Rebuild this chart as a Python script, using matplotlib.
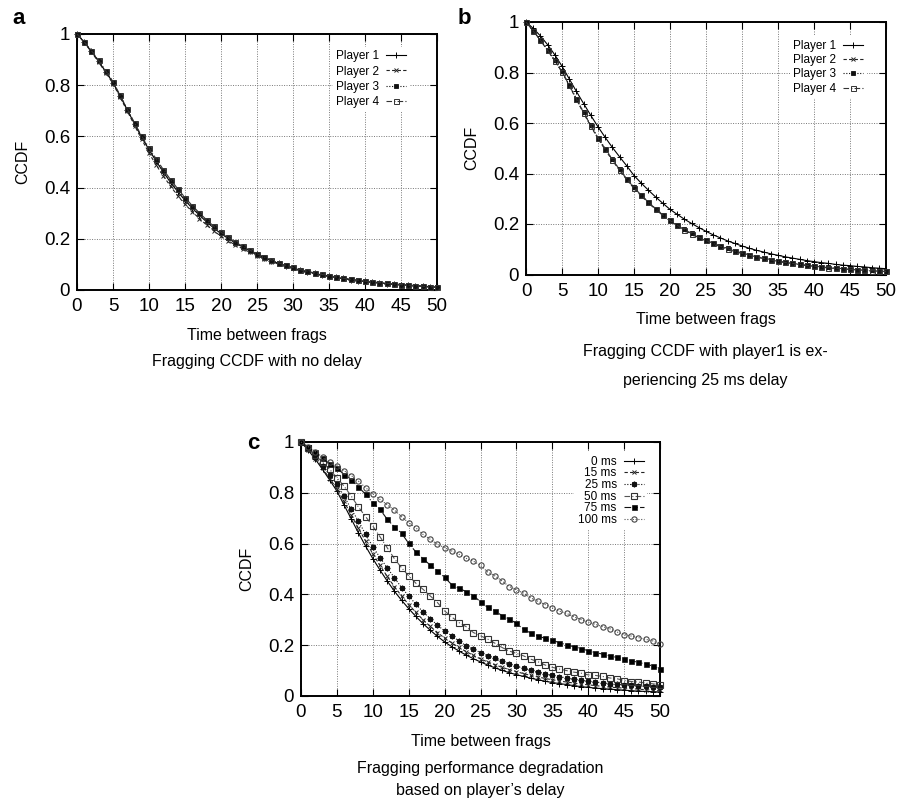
import numpy as np
import matplotlib
matplotlib.use("Agg")
import matplotlib.pyplot as plt

plt.rcParams['font.family'] = ['Liberation Sans', 'DejaVu Sans']

# ---- data: CCDF of time between frags, sampled at t = 0..50 ----
t = list(range(51))

a_player1 = [1.0, 0.968, 0.932, 0.893, 0.852, 0.810, 0.757, 0.703, 0.648, 0.596, 0.548, 0.503, 0.460, 0.420, 0.384, 0.350, 0.320, 0.292, 0.266, 0.242, 0.220, 0.201, 0.184, 0.168, 0.153, 0.139, 0.126, 0.114, 0.104, 0.095, 0.086, 0.078, 0.071, 0.065, 0.059, 0.054, 0.049, 0.045, 0.041, 0.037, 0.034, 0.031, 0.028, 0.025, 0.023, 0.021, 0.019, 0.017, 0.015, 0.013, 0.011]
a_player2 = [1.0, 0.967, 0.930, 0.890, 0.849, 0.806, 0.752, 0.698, 0.642, 0.588, 0.535, 0.488, 0.445, 0.405, 0.368, 0.335, 0.306, 0.279, 0.254, 0.231, 0.210, 0.192, 0.176, 0.161, 0.147, 0.134, 0.122, 0.111, 0.101, 0.092, 0.084, 0.076, 0.069, 0.063, 0.058, 0.053, 0.048, 0.044, 0.040, 0.036, 0.033, 0.030, 0.027, 0.025, 0.022, 0.020, 0.018, 0.016, 0.014, 0.012, 0.010]
a_player3 = [1.0, 0.970, 0.934, 0.895, 0.854, 0.812, 0.758, 0.704, 0.650, 0.598, 0.550, 0.506, 0.464, 0.425, 0.389, 0.355, 0.324, 0.296, 0.270, 0.245, 0.223, 0.203, 0.185, 0.169, 0.154, 0.140, 0.127, 0.115, 0.105, 0.096, 0.087, 0.079, 0.072, 0.066, 0.060, 0.055, 0.050, 0.046, 0.042, 0.038, 0.035, 0.031, 0.028, 0.026, 0.023, 0.021, 0.019, 0.017, 0.015, 0.013, 0.011]
a_player4 = [1.0, 0.969, 0.935, 0.897, 0.856, 0.814, 0.760, 0.706, 0.652, 0.601, 0.555, 0.512, 0.470, 0.431, 0.395, 0.361, 0.330, 0.301, 0.274, 0.249, 0.226, 0.206, 0.187, 0.171, 0.156, 0.142, 0.129, 0.117, 0.106, 0.097, 0.088, 0.080, 0.073, 0.067, 0.061, 0.056, 0.051, 0.046, 0.042, 0.039, 0.035, 0.032, 0.029, 0.026, 0.024, 0.021, 0.019, 0.017, 0.015, 0.013, 0.011]

b_player1 = [1.0, 0.975, 0.945, 0.910, 0.870, 0.825, 0.775, 0.725, 0.677, 0.630, 0.585, 0.543, 0.503, 0.466, 0.430, 0.392, 0.362, 0.334, 0.307, 0.282, 0.258, 0.238, 0.219, 0.202, 0.186, 0.171, 0.157, 0.145, 0.133, 0.123, 0.113, 0.104, 0.096, 0.089, 0.082, 0.076, 0.070, 0.065, 0.060, 0.055, 0.051, 0.047, 0.044, 0.040, 0.037, 0.035, 0.032, 0.030, 0.027, 0.025, 0.023]
b_player2 = [1.0, 0.965, 0.927, 0.887, 0.846, 0.802, 0.748, 0.693, 0.639, 0.587, 0.538, 0.494, 0.452, 0.412, 0.375, 0.341, 0.311, 0.283, 0.258, 0.234, 0.212, 0.193, 0.176, 0.160, 0.146, 0.133, 0.121, 0.110, 0.100, 0.091, 0.083, 0.076, 0.069, 0.063, 0.057, 0.052, 0.047, 0.043, 0.039, 0.035, 0.032, 0.029, 0.026, 0.024, 0.022, 0.020, 0.018, 0.016, 0.014, 0.013, 0.011]
b_player3 = [1.0, 0.966, 0.929, 0.889, 0.848, 0.804, 0.751, 0.696, 0.642, 0.591, 0.542, 0.498, 0.456, 0.416, 0.379, 0.345, 0.315, 0.287, 0.261, 0.237, 0.215, 0.196, 0.179, 0.163, 0.149, 0.136, 0.124, 0.113, 0.103, 0.094, 0.086, 0.078, 0.071, 0.065, 0.059, 0.054, 0.049, 0.045, 0.041, 0.037, 0.034, 0.031, 0.028, 0.026, 0.023, 0.021, 0.019, 0.017, 0.016, 0.014, 0.012]
b_player4 = [1.0, 0.964, 0.928, 0.888, 0.847, 0.803, 0.750, 0.695, 0.641, 0.590, 0.541, 0.497, 0.455, 0.415, 0.378, 0.344, 0.314, 0.286, 0.260, 0.236, 0.214, 0.195, 0.178, 0.162, 0.148, 0.135, 0.123, 0.112, 0.102, 0.093, 0.085, 0.077, 0.070, 0.064, 0.058, 0.053, 0.048, 0.044, 0.040, 0.036, 0.033, 0.030, 0.027, 0.025, 0.023, 0.021, 0.019, 0.017, 0.015, 0.014, 0.012]

c_0ms = [1.0, 0.968, 0.932, 0.892, 0.850, 0.807, 0.752, 0.697, 0.642, 0.590, 0.541, 0.496, 0.453, 0.413, 0.377, 0.344, 0.313, 0.285, 0.259, 0.235, 0.213, 0.194, 0.177, 0.161, 0.147, 0.134, 0.122, 0.111, 0.101, 0.092, 0.084, 0.077, 0.070, 0.064, 0.058, 0.053, 0.049, 0.045, 0.041, 0.037, 0.034, 0.031, 0.029, 0.027, 0.025, 0.023, 0.021, 0.019, 0.018, 0.017, 0.016]
c_15ms = [1.0, 0.970, 0.935, 0.896, 0.856, 0.816, 0.766, 0.712, 0.660, 0.610, 0.560, 0.514, 0.471, 0.431, 0.394, 0.360, 0.329, 0.300, 0.274, 0.250, 0.228, 0.209, 0.191, 0.175, 0.160, 0.146, 0.134, 0.123, 0.113, 0.104, 0.096, 0.088, 0.081, 0.075, 0.069, 0.064, 0.059, 0.055, 0.051, 0.047, 0.044, 0.041, 0.038, 0.035, 0.033, 0.031, 0.029, 0.027, 0.025, 0.023, 0.022]
c_25ms = [1.0, 0.972, 0.940, 0.906, 0.872, 0.833, 0.787, 0.735, 0.689, 0.636, 0.588, 0.545, 0.505, 0.466, 0.427, 0.394, 0.361, 0.331, 0.305, 0.279, 0.256, 0.237, 0.217, 0.197, 0.184, 0.171, 0.158, 0.148, 0.136, 0.126, 0.117, 0.109, 0.101, 0.094, 0.087, 0.081, 0.076, 0.071, 0.066, 0.062, 0.058, 0.055, 0.052, 0.049, 0.046, 0.044, 0.042, 0.040, 0.038, 0.036, 0.035]
c_50ms = [1.0, 0.975, 0.948, 0.920, 0.892, 0.859, 0.826, 0.787, 0.744, 0.706, 0.669, 0.627, 0.584, 0.541, 0.505, 0.473, 0.444, 0.420, 0.394, 0.368, 0.335, 0.311, 0.289, 0.273, 0.250, 0.237, 0.224, 0.208, 0.191, 0.177, 0.168, 0.158, 0.145, 0.135, 0.122, 0.113, 0.106, 0.100, 0.094, 0.090, 0.083, 0.081, 0.077, 0.071, 0.068, 0.061, 0.057, 0.055, 0.051, 0.048, 0.044]
c_75ms = [1.0, 0.980, 0.960, 0.937, 0.913, 0.897, 0.872, 0.852, 0.823, 0.794, 0.761, 0.735, 0.696, 0.666, 0.641, 0.601, 0.567, 0.541, 0.515, 0.493, 0.467, 0.438, 0.424, 0.411, 0.395, 0.371, 0.349, 0.336, 0.316, 0.303, 0.286, 0.262, 0.248, 0.236, 0.227, 0.219, 0.210, 0.201, 0.194, 0.187, 0.178, 0.171, 0.165, 0.158, 0.152, 0.145, 0.139, 0.132, 0.126, 0.118, 0.106]
c_100ms = [1.0, 0.982, 0.962, 0.940, 0.920, 0.905, 0.887, 0.868, 0.846, 0.820, 0.796, 0.774, 0.753, 0.732, 0.706, 0.682, 0.662, 0.636, 0.617, 0.597, 0.584, 0.571, 0.558, 0.542, 0.531, 0.514, 0.488, 0.473, 0.453, 0.431, 0.418, 0.405, 0.386, 0.373, 0.360, 0.347, 0.334, 0.325, 0.312, 0.301, 0.291, 0.282, 0.273, 0.265, 0.252, 0.242, 0.236, 0.230, 0.223, 0.217, 0.204]

player_labels = ["Player 1", "Player 2", "Player 3", "Player 4"]
delay_labels = ["0 ms", "15 ms", "25 ms", "50 ms", "75 ms", "100 ms"]
x_ticks = list(range(0, 51, 5))
y_ticks = [0, 0.2, 0.4, 0.6, 0.8, 1.0]
y_ticklabels = ["0", "0.2", "0.4", "0.6", "0.8", "1"]

# gnuplot-like line/point styles
player_styles = [
    dict(color="black", ls="-", marker="+", ms=4.5, mew=0.7),
    dict(color="#222222", ls=(0, (3, 2)), marker="x", ms=3.5, mew=0.7),
    dict(color="#111111", ls=(0, (1, 1.5)), marker="s", ms=2.6, mew=0.6, mfc="#111111"),
    dict(color="#333333", ls=(0, (5, 2, 1, 2)), marker="s", ms=3.6, mew=0.7, mfc="none"),
]
delay_styles = [
    dict(color="black", ls="-", marker="+", ms=4.5, mew=0.7),
    dict(color="#222222", ls=(0, (3, 2)), marker="x", ms=3.5, mew=0.7),
    dict(color="#111111", ls=(0, (1, 1.5)), marker=(8, 2, 0), ms=4.0, mew=1.0),
    dict(color="#555555", ls=(0, (5, 2, 1, 2)), marker="s", ms=3.8, mew=0.8, mfc="none", mec="#333333"),
    dict(color="#111111", ls=(0, (6, 2, 1, 2, 1, 2)), marker="s", ms=3.6, mew=0.5, mfc="black"),
    dict(color="#555555", ls=(0, (1, 1.5)), marker="o", ms=3.8, mew=0.8, mfc="none", mec="#444444"),
]

W, H = 898, 808
fig = plt.figure(figsize=(W / 100, H / 100), dpi=100)


def px_axes(left, right, top, bottom):
    return fig.add_axes([left / W, 1 - bottom / H, (right - left) / W, (bottom - top) / H])


def style_axes(ax):
    ax.set_xlim(0, 50)
    ax.set_ylim(0, 1)
    ax.set_xticks(x_ticks)
    ax.set_yticks(y_ticks)
    ax.set_yticklabels(y_ticklabels)
    ax.grid(True, color="#777777", ls=(0, (1, 1.5)), lw=0.7)
    ax.tick_params(direction="in", length=5, width=0.8, top=True, right=True,
                   labelsize=13.5, pad=5, colors="black")
    ax.tick_params(axis="x", pad=6)
    for s in ax.spines.values():
        s.set_linewidth(1.4)
        s.set_color("black")
    ax.set_ylabel("CCDF", fontsize=11.5, labelpad=10)


def draw(ax, series, labels, styles, legend_anchor, spacing):
    for y, lab, st in zip(series, labels, styles):
        ax.plot(t, y, label=lab, lw=0.8, clip_on=False, zorder=3, **st)
    leg = ax.legend(loc="upper right", bbox_to_anchor=legend_anchor, frameon=True,
                    markerfirst=False, fontsize=8.5, handlelength=1.7, handletextpad=0.6,
                    labelspacing=spacing, borderpad=0.3, borderaxespad=0,
                    fancybox=False, framealpha=1.0)
    leg.get_frame().set_edgecolor("none")
    leg.get_frame().set_facecolor("white")


# panel a
ax_a = px_axes(77, 437, 34, 290)
style_axes(ax_a)
draw(ax_a, [a_player1, a_player2, a_player3, a_player4], player_labels, player_styles,
     (0.925, 0.95), 0.27)
ax_a.set_xlabel("Time between frags", fontsize=11.5, labelpad=9)
fig.text(257 / W, 1 - 361 / H, "Fragging CCDF with no delay", ha="center", va="center", fontsize=11.5)
fig.text(12 / W, 1 - 19 / H, "a", ha="left", va="center", fontsize=16, fontweight="bold")

# panel b
ax_b = px_axes(526, 886, 22, 274.5)
style_axes(ax_b)
draw(ax_b, [b_player1, b_player2, b_player3, b_player4], player_labels, player_styles,
     (0.947, 0.943), 0.19)
ax_b.set_xlabel("Time between frags", fontsize=11.5, labelpad=9)
fig.text(705 / W, 1 - 352 / H, "Fragging CCDF with player1 is ex-", ha="center", va="center", fontsize=11.5)
fig.text(705 / W, 1 - 380 / H, "periencing 25 ms delay", ha="center", va="center", fontsize=11.5)
fig.text(458 / W, 1 - 18 / H, "b", ha="left", va="center", fontsize=16, fontweight="bold")

# panel c
ax_c = px_axes(301, 660, 442, 696)
style_axes(ax_c)
draw(ax_c, [c_0ms, c_15ms, c_25ms, c_50ms, c_75ms, c_100ms], delay_labels, delay_styles,
     (0.965, 0.96), -0.03)
ax_c.set_xlabel("Time between frags", fontsize=11.5, labelpad=9)
fig.text(480 / W, 1 - 768 / H, "Fragging performance degradation", ha="center", va="center", fontsize=11.5)
fig.text(480 / W, 1 - 791 / H, "based on player\u2019s delay", ha="center", va="center", fontsize=11.5)
fig.text(247 / W, 1 - 443 / H, "c", ha="left", va="center", fontsize=16, fontweight="bold")

fig.savefig("out.png", dpi=100)
